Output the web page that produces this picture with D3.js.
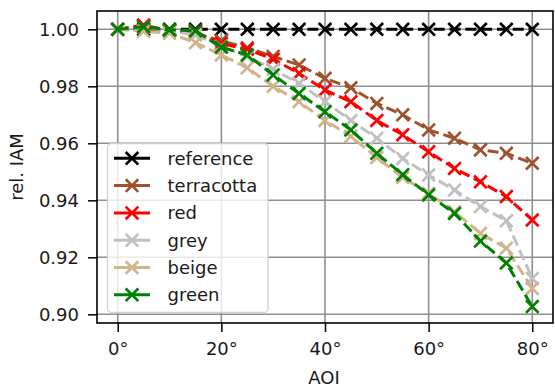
<!DOCTYPE html>
<html><head><meta charset="utf-8">
<script src="https://cdn.jsdelivr.net/npm/d3@7"></script>
<style>body{margin:0;background:#fff}svg{display:block}</style>
</head><body>
<script>
const aoi = [0,5,10,15,20,25,30,35,40,45,50,55,60,65,70,75,80];
const reference = [1,1,1,1,1,1,1,1,1,1,1,1,1,1,1,1,1];
const terracotta = [1.000,1.0012,0.9995,0.9985,0.9960,0.9935,0.9905,0.9875,0.9828,0.9795,0.9740,0.9700,0.9647,0.9618,0.9577,0.9565,0.9530];
const red = [1.000,1.0015,0.9995,0.9990,0.9950,0.9930,0.9895,0.9845,0.9787,0.9746,0.9680,0.9630,0.9570,0.9512,0.9465,0.9413,0.9331];
const grey = [1.000,1.0008,0.9995,0.9980,0.9940,0.9905,0.9860,0.9810,0.9746,0.9680,0.9618,0.9547,0.9489,0.9436,0.9378,0.9328,0.9126];
const beige = [1.000,0.9993,0.9986,0.9953,0.9910,0.9865,0.9800,0.9746,0.9680,0.9625,0.9550,0.9480,0.9425,0.9360,0.9284,0.9232,0.9091];
const green = [1.000,1.0009,0.9998,0.9995,0.9937,0.9910,0.9840,0.9775,0.9711,0.9647,0.9565,0.9490,0.9419,0.9354,0.9257,0.9180,0.9027];
const seriesNames = ["reference","terracotta","red","grey","beige","green"];
const seriesColors = ["#000000","#a0522d","#ff0000","#c0c0c0","#d2b48c","#008000"];
const seriesValues = [reference,terracotta,red,grey,beige,green];
const xTicks = [0,20,40,60,80];
const yTicks = [0.90,0.92,0.94,0.96,0.98,1.00];

const W=555,H=387;
const L=97,R=553,T=11,B=323;
const FS="18px";
const svg=d3.select("body").append("svg").attr("width",W).attr("height",H)
  .style("font-family","'DejaVu Sans', sans-serif");
const x=d3.scaleLinear().domain([-4,84]).range([L,R]);
const y=d3.scaleLinear().domain([0.89695,1.00643]).range([B,T]);

// grid
const g=svg.append("g");
g.selectAll("line.gx").data(xTicks).join("line")
  .attr("x1",d=>x(d)).attr("x2",d=>x(d)).attr("y1",T).attr("y2",B)
  .attr("stroke","#8f8f8f").attr("stroke-width",1.6);
g.selectAll("line.gy").data(yTicks).join("line")
  .attr("y1",d=>y(d)).attr("y2",d=>y(d)).attr("x1",L).attr("x2",R)
  .attr("stroke","#8f8f8f").attr("stroke-width",1.6);

// axes
const xa=svg.append("g").attr("transform",`translate(0,${B})`)
  .call(d3.axisBottom(x).tickValues(xTicks).tickFormat(d=>d+"°").tickSize(9).tickPadding(10));
const ya=svg.append("g").attr("transform",`translate(${L},0)`)
  .call(d3.axisLeft(y).tickValues(yTicks).tickFormat(d3.format(".2f")).tickSize(9).tickPadding(9));
[xa,ya].forEach(a=>{
  a.select(".domain").remove();
  a.selectAll(".tick line").attr("stroke","#000").attr("stroke-width",1.5);
  a.selectAll(".tick text").attr("fill","#1a1a1a").style("font-size",FS).style("font-family","'DejaVu Sans', sans-serif");
});

// series
const line=d3.line().x((d,i)=>x(aoi[i])).y(d=>y(d));
const s=6.3;
const xPath=(cx,cy)=>`M${cx-s},${cy-s}L${cx+s},${cy+s}M${cx-s},${cy+s}L${cx+s},${cy-s}`;
const plot=svg.append("g");
seriesValues.forEach((vals,k)=>{
  const gg=plot.append("g");
  gg.append("path").attr("d",line(vals)).attr("fill","none")
    .attr("stroke",seriesColors[k]).attr("stroke-width",3).attr("stroke-dasharray","11,4.8");
  gg.selectAll("path.m").data(vals).join("path").attr("class","m")
    .attr("d",(d,i)=>xPath(x(aoi[i]),y(d)))
    .attr("stroke",seriesColors[k]).attr("stroke-width",2.7).attr("fill","none");
});

// frame
svg.append("rect").attr("x",L).attr("y",T).attr("width",R-L).attr("height",B-T)
  .attr("fill","none").attr("stroke","#000").attr("stroke-width",1.6);

// legend
const lg=svg.append("g");
lg.append("rect").attr("x",107.5).attr("y",143.5).attr("width",160.5).attr("height",169)
  .attr("rx",4).attr("fill","rgba(255,255,255,0.8)").attr("stroke","#d0d0d0").attr("stroke-width",1.3);
seriesNames.forEach((n,k)=>{
  const cy=158.3+k*27.3;
  lg.append("line").attr("x1",114).attr("x2",150).attr("y1",cy).attr("y2",cy)
    .attr("stroke",seriesColors[k]).attr("stroke-width",3);
  lg.append("path").attr("d",xPath(132,cy)).attr("stroke",seriesColors[k]).attr("stroke-width",2.7);
  lg.append("text").attr("x",167.5).attr("y",cy).attr("dy","0.35em").text(n)
    .attr("fill","#1a1a1a").style("font-size",FS);
});

// axis labels
svg.append("text").attr("x",(L+R)/2-1).attr("y",378).attr("dy","0.35em").attr("text-anchor","middle")
  .text("AOI").attr("fill","#1a1a1a").style("font-size",FS);
svg.append("text").attr("transform","translate(17,167) rotate(-90)").attr("dy","0.35em").attr("text-anchor","middle")
  .text("rel. IAM").attr("fill","#1a1a1a").style("font-size",FS);
</script>
</body></html>
